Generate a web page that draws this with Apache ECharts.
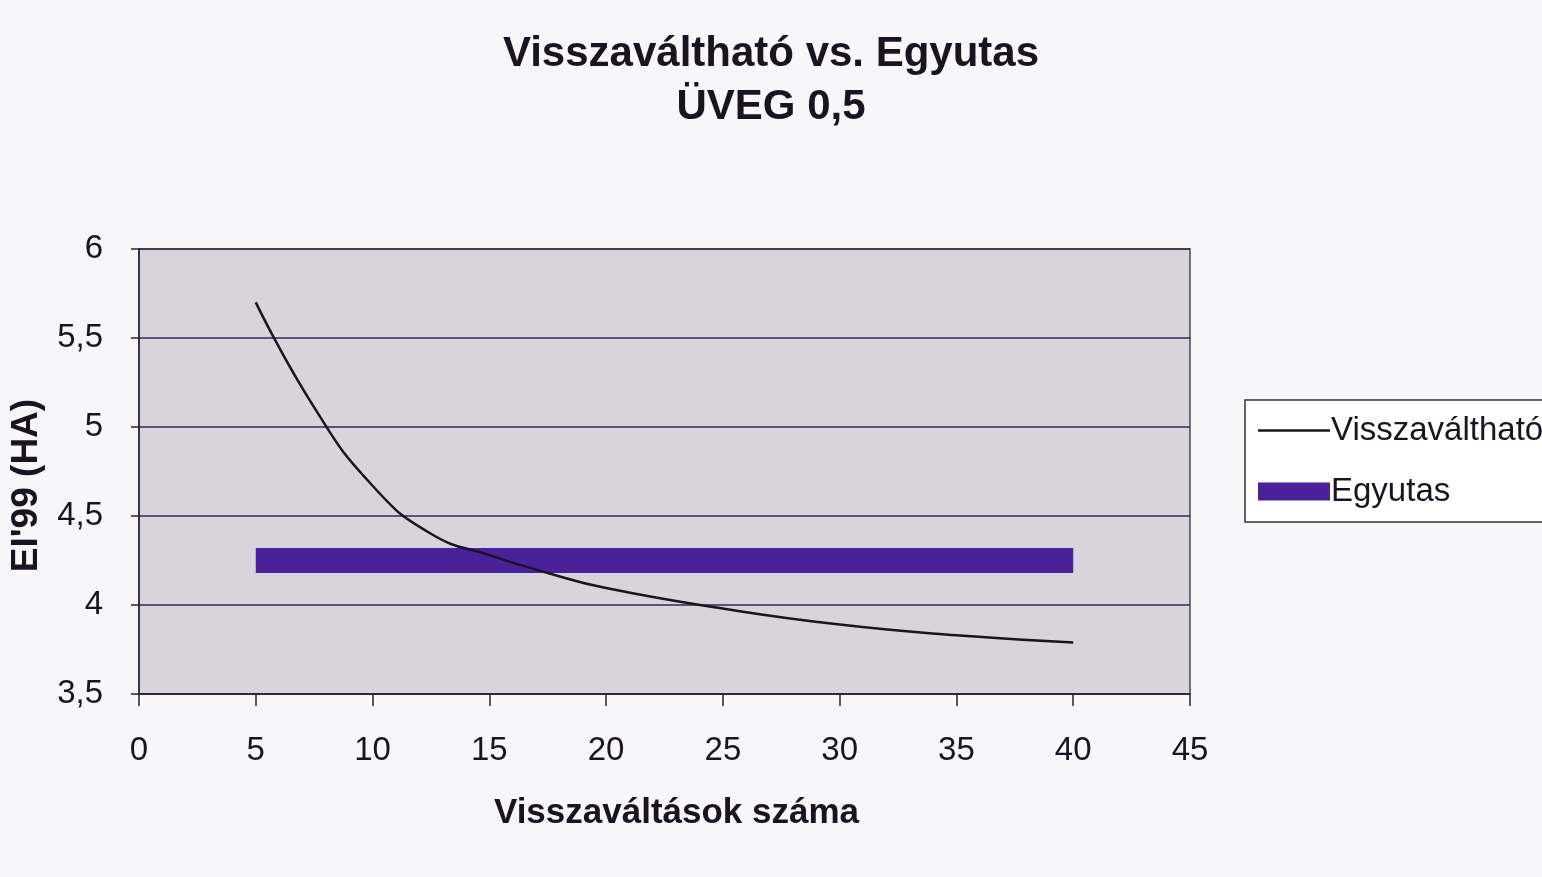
<!DOCTYPE html>
<html>
<head>
<meta charset="utf-8">
<script src="https://cdn.jsdelivr.net/npm/echarts@6/dist/echarts.min.js"></script>
<style>
html,body{margin:0;padding:0;background:#f7f6f8;}
#chart{width:1542px;height:877px;}
</style>
</head>
<body>
<div id="chart"></div>
<script>
// Data
const titleLines = ['Visszaváltható vs. Egyutas', 'ÜVEG 0,5'];
const xAxisName = 'Visszaváltások száma';
const yAxisName = "EI'99 (HA)";
const seriesNames = ['Visszaváltható', 'Egyutas'];
const visszaX = [5, 7.5, 10, 12.5, 15, 17.5, 20, 25, 30, 35, 40];
const visszaY = [5.70, 5.11, 4.67, 4.40, 4.28, 4.18, 4.095, 3.98, 3.89, 3.83, 3.79];
const egyutasX = [5, 40];
const egyutasY = [4.25, 4.25];

const chart = echarts.init(document.getElementById('chart'));
const font = 'Liberation Sans, Arial, sans-serif';
chart.setOption({
  backgroundColor: '#f7f6f8',
  animation: false,
  title: {
    text: titleLines.join('\n'),
    left: 'center',
    top: 23,
    textStyle: {fontFamily: font, fontSize: 42, fontWeight: 'bold', color: '#1a1420', lineHeight: 53}
  },
  legend: {
    orient: 'vertical',
    left: 1245,
    top: 400,
    padding: [14, 10, 14, 4],
    itemGap: 28,
    itemWidth: 72,
    itemHeight: 22,
    backgroundColor: '#ffffff',
    borderColor: '#333',
    borderWidth: 1.5,
    textStyle: {fontFamily: font, fontSize: 33, color: '#1a1420', padding: [0, 0, 0, -4]},
    data: [
      {name: seriesNames[0], lineStyle: {width: 2.5, color: '#1a1420'}, itemStyle: {opacity: 0}},
      {name: seriesNames[1], lineStyle: {width: 18, color: '#47229a'}, itemStyle: {opacity: 0}}
    ]
  },
  grid: {
    left: 138, right: 352, top: 249, bottom: 183,
    show: true,
    backgroundColor: '#d7d4db',
    borderColor: '#4a4450',
    borderWidth: 1.5
  },
  xAxis: {
    type: 'value',
    min: 0, max: 45, interval: 5,
    name: xAxisName,
    nameLocation: 'middle',
    nameGap: 102,
    nameTextStyle: {fontFamily: font, fontSize: 35, fontWeight: 'bold', color: '#1a1420', padding: [0, 0, 0, 24]},
    axisLine: {show: true, lineStyle: {color: '#2a2030', width: 1.5}},
    axisTick: {show: true, length: 12, lineStyle: {color: '#2a2030', width: 1.5}},
    axisLabel: {fontFamily: font, fontSize: 33, color: '#1a1420', margin: 40},
    splitLine: {show: false}
  },
  yAxis: {
    type: 'value',
    min: 3.5, max: 6, interval: 0.5,
    name: yAxisName,
    nameLocation: 'middle',
    nameGap: 94,
    nameTextStyle: {fontFamily: font, fontSize: 37, fontWeight: 'bold', color: '#1a1420', padding: [0, 28, 0, 0]},
    axisLine: {show: true, lineStyle: {color: '#2a2030', width: 1.5}},
    axisTick: {show: true, length: 8, lineStyle: {color: '#2a2030', width: 1.5}},
    axisLabel: {
      fontFamily: font, fontSize: 33, color: '#1a1420', margin: 36,
      formatter: v => String(v).replace('.', ',')
    },
    splitLine: {show: true, lineStyle: {color: '#3a2650', width: 1.5}}
  },
  series: [
    {
      name: seriesNames[0],
      type: 'line',
      smooth: true,
      symbol: 'none',
      data: visszaX.map((x, i) => [x, visszaY[i]]),
      lineStyle: {color: '#1a1420', width: 2.5},
      itemStyle: {color: '#1a1420'},
      z: 3
    },
    {
      name: seriesNames[1],
      type: 'line',
      symbol: 'none',
      data: egyutasX.map((x, i) => [x, egyutasY[i]]),
      lineStyle: {color: '#47229a', width: 25, cap: 'butt'},
      itemStyle: {color: '#47229a'},
      z: 2
    }
  ]
});
</script>
</body>
</html>
